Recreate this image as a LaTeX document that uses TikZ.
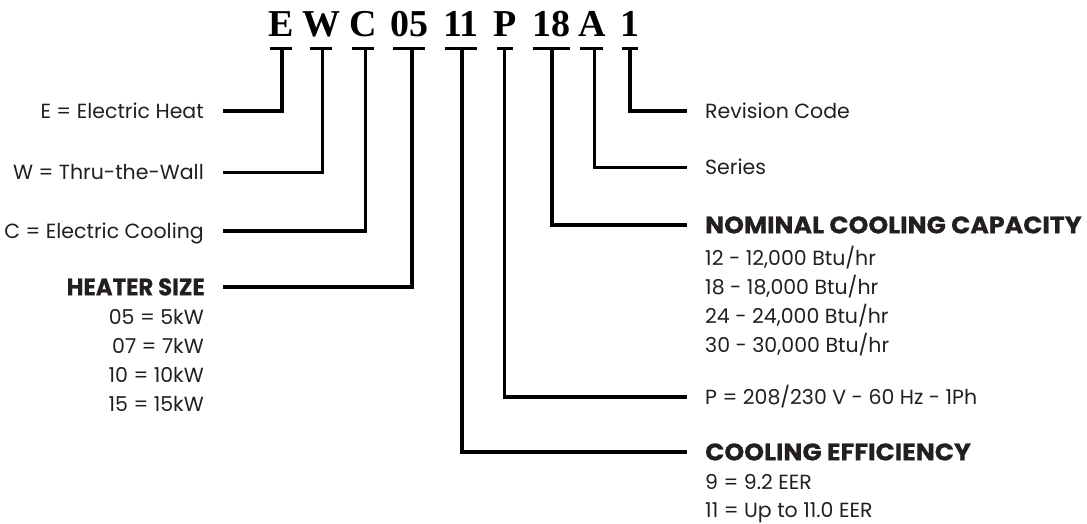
\documentclass[tikz,border=0pt]{standalone}
\usepackage{fontspec}
\setmainfont{Poppins}
\newfontfamily\titlefont{Liberation Serif}
\definecolor{txt}{HTML}{231F20}
\begin{document}
\begin{tikzpicture}[x=1pt,y=-1pt,
  lbl/.style={font=\fontsize{20.5}{24}\selectfont, text=txt, inner sep=0pt, text height=14.3pt, text depth=0pt},
  hd/.style={font=\fontsize{24}{28}\selectfont\bfseries\addfontfeature{FakeStretch=1.05,FakeBold=0.6}, text=txt, inner sep=0pt, text height=16.8pt, text depth=0pt},
  hdn/.style={font=\fontsize{24}{28}\selectfont\bfseries\addfontfeature{FakeStretch=0.95,FakeBold=0.6}, text=txt, inner sep=0pt, text height=16.8pt, text depth=0pt},
  ttl/.style={font=\titlefont\bfseries\fontsize{38}{40}\selectfont, text=black, inner sep=0pt, anchor=base},
  bar/.style={fill=black, inner sep=0pt, minimum height=3.2pt},
  conn/.style={line width=3.2pt, line join=miter, draw=black}]
\useasboundingbox (0,0) rectangle (1087,524);
% code letters
\node[ttl] (tE) at (281,37) {E};
\node[ttl] (tW) at (321,37) {W};
\node[ttl] (tC) at (363,37) {C};
\node[ttl] (t05) at (409,37) {05};
\node[ttl] (t11) at (461,37) {11};
\node[ttl] (tP) at (505,37) {P};
\node[ttl] (t18) at (551,37) {18};
\node[ttl] (tA) at (592,37) {A};
\node[ttl] (t1) at (630,37) {1};
% bars
\node[bar, minimum width=22pt] (bE) at (281,48.5) {};
\node[bar, minimum width=22pt] (bW) at (321,48.5) {};
\node[bar, minimum width=22pt] (bC) at (362.5,48.5) {};
\node[bar, minimum width=32pt] (b05) at (409,48.5) {};
\node[bar, minimum width=32pt] (b11) at (461,48.5) {};
\node[bar, minimum width=16pt] (bP) at (505,48.5) {};
\node[bar, minimum width=37pt] (b18) at (551.5,48.5) {};
\node[bar, minimum width=23pt] (bA) at (591.5,48.5) {};
\node[bar, minimum width=16pt] (b1) at (630,48.5) {};
% connector tops
\coordinate (vE) at (282,48.5);
\coordinate (vW) at (322.5,48.5);
\coordinate (vC) at (365.5,48.5);
\coordinate (v05) at (412,48.5);
\coordinate (v11) at (462,48.5);
\coordinate (vP) at (504.5,48.5);
\coordinate (v18) at (552,48.5);
\coordinate (vA) at (594.5,48.5);
\coordinate (v1) at (630,48.5);
% left labels
\node[lbl, anchor=east] (lE) at (204,111) {E = Electric Heat};
\node[lbl, anchor=east] (lW) at (204,172.5) {W = Thru-the-Wall};
\node[lbl, anchor=east] (lC) at (204,231) {C = Electric Cooling};
\node[hdn, anchor=east] (lH) at (205,287) {HEATER SIZE};
\node[lbl, anchor=east] (lH1) at (204,317) {05 = 5kW};
\node[lbl, anchor=east] (lH2) at (204,346) {07 = 7kW};
\node[lbl, anchor=east] (lH3) at (204,375) {10 = 10kW};
\node[lbl, anchor=east] (lH4) at (204,404) {15 = 15kW};
% right labels
\node[lbl, anchor=west] (rRev) at (705,111) {Revision Code};
\node[lbl, anchor=west] (rSer) at (705,167.5) {Series};
\node[hd, anchor=west] (rNom) at (705,225) {NOMINAL COOLING CAPACITY};
\node[lbl, anchor=west] (rN1) at (705,258) {12 - 12,000 Btu/hr};
\node[lbl, anchor=west] (rN2) at (705,287) {18 - 18,000 Btu/hr};
\node[lbl, anchor=west] (rN3) at (705,316) {24 - 24,000 Btu/hr};
\node[lbl, anchor=west] (rN4) at (705,345) {30 - 30,000 Btu/hr};
\node[lbl, anchor=west] (rP) at (705,397) {P = 208/230 V - 60 Hz - 1Ph};
\node[hd, anchor=west] (rEff) at (705,452) {COOLING EFFICIENCY};
\node[lbl, anchor=west] (rE1) at (705,482) {9 = 9.2 EER};
\node[lbl, anchor=west] (rE2) at (705,510) {11 = Up to 11.0 EER};
% connectors
\draw[conn] (vE) |- ([xshift=19pt]lE.east);
\draw[conn] (vW) |- ([xshift=19pt]lW.east);
\draw[conn] (vC) |- ([xshift=19pt]lC.east);
\draw[conn] (v05) |- ([xshift=18pt]lH.east);
\draw[conn] (v1) |- ([xshift=-18pt]rRev.west);
\draw[conn] (vA) |- ([xshift=-18pt]rSer.west);
\draw[conn] (v18) |- ([xshift=-18pt]rNom.west);
\draw[conn] (vP) |- ([xshift=-18pt]rP.west);
\draw[conn] (v11) |- ([xshift=-18pt]rEff.west);
\end{tikzpicture}
\end{document}
